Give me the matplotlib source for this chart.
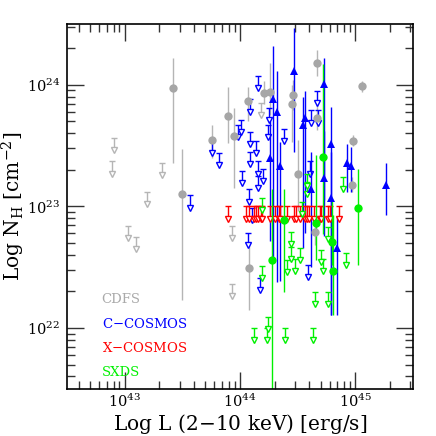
import numpy as np
import matplotlib.pyplot as plt
from matplotlib.ticker import LogLocator, NullFormatter

plt.rcParams['font.family'] = 'DejaVu Serif'
plt.rcParams['mathtext.fontset'] = 'dejavuserif'

# all values in log units: log L(2-10 keV), log NH, lower / upper NH bound
cdfs_L = [43.42, 43.50, 43.76, 43.90, 43.95, 44.07, 44.21, 44.26, 44.46, 44.45,
          44.67, 44.67, 44.50, 45.06, 44.98, 44.97, 44.08, 44.65]
cdfs_NH = [23.97, 23.10, 23.55, 23.74, 23.58, 23.87, 23.93, 23.94, 23.92, 23.84,
           24.18, 23.73, 23.27, 23.99, 23.54, 23.18, 22.49, 22.79]
cdfs_lo = [23.36, 22.23, 23.40, 23.52, 23.15, 23.70, 23.84, 23.75, 23.79, 23.53,
           24.07, 23.63, 22.96, 23.94, 23.50, 23.12, 22.15, 22.68]
cdfs_hi = [24.22, 23.47, 23.67, 23.98, 23.81, 23.98, 24.03, 24.18, 24.04, 24.00,
           24.29, 23.84, 23.55, 24.03, 23.59, 23.24, 22.70, 22.89]
cdfs_ul_L = [42.91, 42.89, 43.32, 43.19, 43.03, 43.10, 43.93, 43.93, 44.18]
cdfs_ul_NH = [23.56, 23.37, 23.36, 23.12, 22.84, 22.75, 22.84, 22.36, 23.85]

ccos_L = [44.29, 44.32, 44.47, 44.56, 44.55, 44.73, 44.79, 44.26, 44.35, 44.93,
          44.96, 45.27, 44.73, 44.79, 44.62, 44.84]
ccos_NH = [23.88, 23.78, 24.11, 23.73, 23.67, 24.01, 23.51, 23.40, 23.33, 23.36,
           23.33, 23.18, 23.23, 23.07, 23.14, 22.66]
ccos_lo = [22.56, 22.38, 23.45, 22.78, 22.66, 23.05, 22.11, 22.72, 22.39, 23.12,
           23.12, 22.93, 22.76, 22.11, 22.50, 22.11]
ccos_hi = [24.32, 24.11, 24.47, 23.95, 23.90, 24.22, 23.82, 23.70, 23.53, 23.51,
           23.49, 23.36, 23.62, 23.45, 23.45, 22.92]
ccos_ul_L = [43.76, 43.82, 43.57, 43.98, 44.01, 44.16, 44.09, 44.09, 44.14, 44.09,
             44.02, 44.16, 44.16, 44.08, 44.25, 44.24, 44.38, 44.62, 44.67, 44.68,
             44.10, 44.07, 44.17, 44.20, 44.61, 44.59]
ccos_ul_NH = [23.54, 23.44, 23.09, 23.67, 23.71, 24.07, 23.88, 23.61, 23.54, 23.45,
              23.29, 23.37, 23.25, 23.14, 23.81, 23.67, 23.64, 23.79, 23.95, 23.79,
              22.99, 22.78, 22.41, 23.31, 23.37, 22.52]

xcos_ul_L = [43.90, 44.05, 44.08, 44.12, 44.14, 44.16, 44.18, 44.19, 44.26, 44.30,
             44.34, 44.35, 44.41, 44.47, 44.49, 44.52, 44.56, 44.58, 44.60, 44.64,
             44.69, 44.70, 44.76, 44.78, 44.86]
xcos_ul_NH = [23.00, 23.00, 23.00, 23.00, 23.00, 23.00, 23.00, 23.00, 23.00, 23.00,
              23.00, 23.00, 23.00, 23.00, 23.00, 23.00, 23.00, 23.00, 23.00, 23.00,
              23.00, 23.00, 23.00, 23.00, 23.00]

sxds_L = [44.72, 45.02, 44.28, 44.38, 44.66, 44.80, 44.81]
sxds_NH = [23.41, 22.99, 22.56, 22.89, 22.86, 22.71, 22.47]
sxds_lo = [22.77, 22.52, 21.40, 22.30, 22.56, 22.52, 22.11]
sxds_hi = [24.17, 23.31, 23.14, 23.14, 23.42, 23.05, 22.93]
sxds_ul_L = [44.12, 44.23, 44.24, 44.39, 44.63, 44.65, 44.76, 44.19, 44.19, 44.44,
             44.44, 44.48, 44.41, 44.52, 44.58, 44.70, 44.72, 44.76, 44.92, 44.89,
             44.58, 44.54]
sxds_ul_NH = [22.00, 22.00, 22.09, 22.00, 22.00, 22.30, 22.30, 22.51, 23.07, 22.79,
              22.67, 22.57, 22.56, 22.66, 23.20, 22.64, 22.57, 22.83, 22.62, 23.24,
              23.27, 23.04]

GRAY, BLUE, RED, GREEN = '#a6a6a6', '#0000ff', '#ff0000', '#00f000'


def detections(ax, L, NH, lo, hi, color, marker, ms, ecolor):
    x = 10 ** np.array(L)
    y = 10 ** np.array(NH)
    yerr = [y - 10 ** np.array(lo), 10 ** np.array(hi) - y]
    ax.errorbar(x, y, yerr=yerr, fmt=marker, color=color, ecolor=ecolor, ms=ms,
                elinewidth=1.0, capsize=2.5, capthick=1.0, mew=0)


def limits(ax, L, NH, color):
    x = 10 ** np.array(L)
    top = 10 ** np.array(NH)
    tip = 10 ** (np.array(NH) - 0.1)
    ax.vlines(x, tip, top, color=color, lw=1.0)
    ax.plot(x, top, ls='none', marker='_', ms=5, mew=1.0, color=color)
    ax.plot(x, tip, ls='none', marker='v', ms=4.2, mfc='white', mec=color, mew=1.0)


fig = plt.figure(figsize=(4.36, 4.36), dpi=100)
ax = fig.add_axes([0.154, 0.108, 0.793, 0.837])
ax.set_xscale('log')
ax.set_yscale('log')

limits(ax, cdfs_ul_L, cdfs_ul_NH, '#b5b5b5')
detections(ax, cdfs_L, cdfs_NH, cdfs_lo, cdfs_hi, GRAY, 'o', 6, '#b5b5b5')
limits(ax, ccos_ul_L, ccos_ul_NH, BLUE)
detections(ax, ccos_L, ccos_NH, ccos_lo, ccos_hi, BLUE, '^', 5.5, BLUE)
limits(ax, xcos_ul_L, xcos_ul_NH, RED)
limits(ax, sxds_ul_L, sxds_ul_NH, GREEN)
detections(ax, sxds_L, sxds_NH, sxds_lo, sxds_hi, GREEN, 'o', 6, GREEN)

ax.set_xlim(10 ** 42.5, 10 ** 45.5)
ax.set_ylim(10 ** 21.5, 10 ** 24.5)

for a in (ax.xaxis, ax.yaxis):
    a.set_major_locator(LogLocator(base=10, numticks=10))
    a.set_minor_locator(LogLocator(base=10, subs=np.arange(2, 10), numticks=10))
    a.set_minor_formatter(NullFormatter())
ax.tick_params(which='both', direction='in', top=True, right=True, labelsize=10.5,
               color='#333333')
ax.tick_params(which='major', length=12, width=1.0)
ax.tick_params(axis='x', which='major', pad=3)
ax.tick_params(axis='y', which='major', pad=5)
ax.tick_params(which='minor', length=6, width=1.0)
for s in ax.spines.values():
    s.set_linewidth(1.2)

ax.set_xlabel('Log L (2$-$10 keV) [erg/s]', fontsize=14.5)
ax.xaxis.set_label_coords(0.5, -0.063)
ax.set_ylabel('Log N$_\\mathregular{H}$ [cm$^{-2}$]', fontsize=14.5)
ax.yaxis.set_label_coords(-0.115, 0.5)

legend_names = ['CDFS', 'C$-$COSMOS', 'X$-$COSMOS', 'SXDS']
legend_cols = ['#aaaaaa', BLUE, RED, GREEN]
for i, (name, col) in enumerate(zip(legend_names, legend_cols)):
    ax.text(0.1, 0.245 - i * 0.067, name, color=col, fontsize=9.5,
            transform=ax.transAxes, va='center', ha='left')

fig.savefig('out.png', dpi=100)
